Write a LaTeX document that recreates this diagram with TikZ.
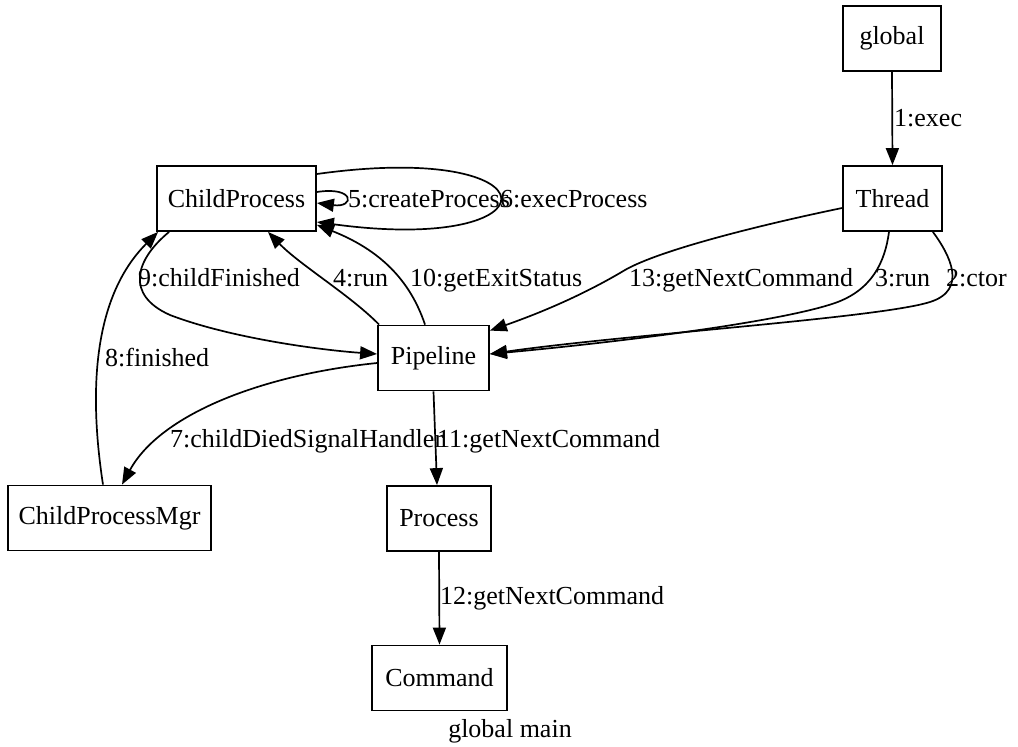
\documentclass[tikz,border=0pt]{standalone}
\usepackage{fontspec}
\setmainfont{Liberation Serif}
\usetikzlibrary{arrows.meta,calc}
\begin{document}
\begin{tikzpicture}[x=1pt,y=-1pt,
  font=\fontsize{26}{30}\selectfont,
  box/.style={draw, line width=1.8pt, inner sep=0pt, minimum height=65pt},
  msg/.style={draw, line width=1.7pt, -{Triangle[length=17pt,width=13pt]}},
  lbl/.style={inner sep=0pt, anchor=base west}]
\useasboundingbox (0,0) rectangle (1018,747);

% objects
\node[box, minimum width=98pt]  (global)  at (892,38.5)    {global};
\node[box, minimum width=99pt]  (Thread)  at (892.5,198.5) {Thread};
\node[box, minimum width=159pt] (ChildProcess) at (236.5,198.5) {ChildProcess};
\node[box, minimum width=111pt] (Pipeline) at (433.5,358)  {Pipeline};
\node[box, minimum width=203pt] (ChildProcessMgr) at (109.5,518) {ChildProcessMgr};
\node[box, minimum width=104pt] (Process) at (439,518.5)   {Process};
\node[box, minimum width=135pt] (Command) at (439.5,678)   {Command};

% messages
\draw[msg] (global.south) -- (Thread.north);
\draw[msg] ([xshift=-10pt]Thread.south east) .. controls (950,255) and (968,290) .. (930,302)
  .. controls (880,318) and (620,335) .. ([yshift=4pt]Pipeline.east);
\draw[msg] ([xshift=-3.5pt]Thread.south) .. controls (885,262) and (872,290) .. (835,303)
  .. controls (780,322) and (620,342) .. ([yshift=4pt]Pipeline.east);
\draw[msg] ([yshift=-9.5pt]Thread.west) .. controls (760,225) and (660,250) .. (625,270)
  .. controls (600,285) and (560,306) .. ([yshift=-6pt]Pipeline.north east);
\draw[msg] ([xshift=2pt]Pipeline.north west) .. controls (350,295) and (300,265) .. ([xshift=31.5pt]ChildProcess.south);
\draw[msg] ([xshift=-8.5pt]Pipeline.north) .. controls (410,280) and (380,250) .. ([yshift=7pt]ChildProcess.south east);
\draw[msg] ([xshift=13pt]ChildProcess.south west) .. controls (135,260) and (125,295) .. (170,315)
  .. controls (230,338) and (320,350) .. ([yshift=4pt]Pipeline.west);
\draw[msg] ([xshift=-6.5pt]ChildProcessMgr.north) .. controls (90,400) and (90,300) .. ([xshift=2pt]ChildProcess.south west);
\draw[msg] ([yshift=-5pt]Pipeline.west) .. controls (260,375) and (160,415) .. ([xshift=12.5pt]ChildProcessMgr.north);
\draw[msg] (Pipeline.south) -- ([xshift=-2pt]Process.north);
\draw[msg] (Process.south) -- (Command.north);
\draw[msg] ([yshift=6.5pt]ChildProcess.east) .. controls (355,186) and (355,208) .. ([yshift=-4.5pt]ChildProcess.east);
\draw[msg] ([yshift=24.5pt]ChildProcess.east) .. controls (560,140) and (560,255) .. ([yshift=-23.5pt]ChildProcess.east);

% message labels
\node[lbl] (l1)  at (894,126) {1:exec};
\node[lbl] (l5)  at (348,207) {5:createProcess};
\node[lbl] (l6)  at (500,207) {6:execProcess};
\node[lbl] (l9)  at (138,286) {9:childFinished};
\node[lbl] (l4)  at (333,286) {4:run};
\node[lbl] (l10) at (410,286) {10:getExitStatus};
\node[lbl] (l13) at (629,286) {13:getNextCommand};
\node[lbl] (l3)  at (875,286) {3:run};
\node[lbl] (l2)  at (946,286) {2:ctor};
\node[lbl] (l8)  at (105,366) {8:finished};
\node[lbl] (l7)  at (170,447) {7:childDiedSignalHandler};
\node[lbl] (l11) at (437,447) {11:getNextCommand};
\node[lbl] (l12) at (440,604) {12:getNextCommand};

% diagram title
\node[inner sep=0pt, anchor=base] (title) at (510,737) {global main};
\end{tikzpicture}
\end{document}
